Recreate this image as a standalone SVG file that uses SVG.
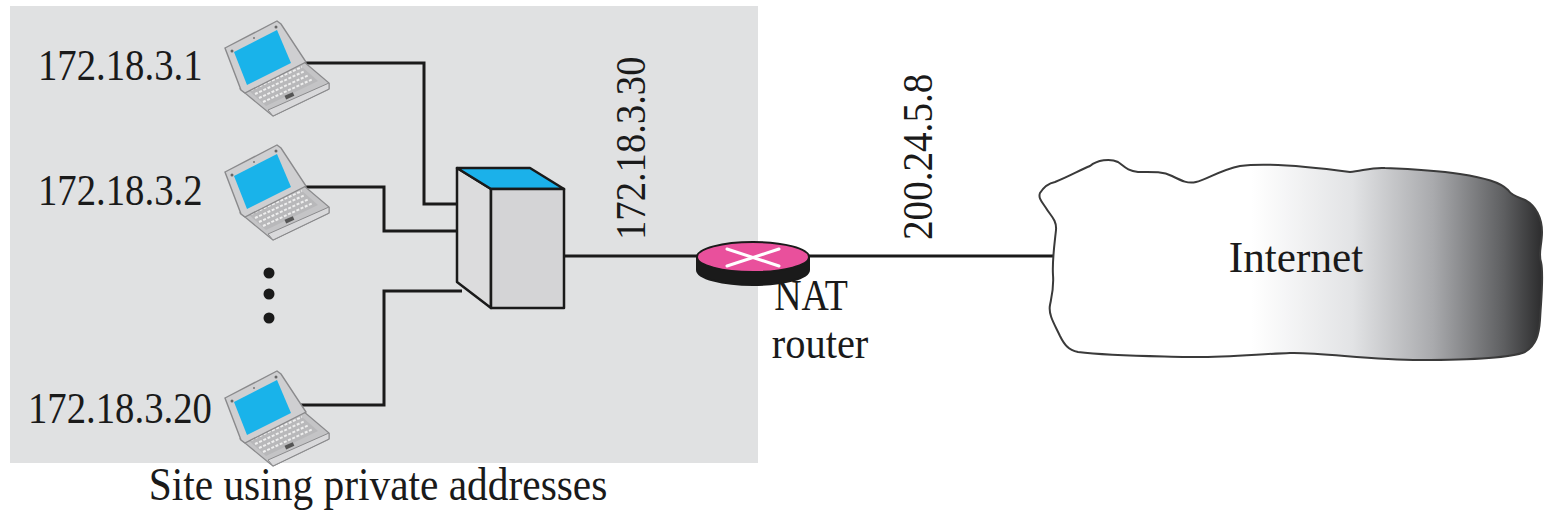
<svg xmlns="http://www.w3.org/2000/svg" xmlns:xlink="http://www.w3.org/1999/xlink" width="1544" height="515" viewBox="0 0 1544 515">
  <style>
    .lbl { font-family: "Liberation Serif", "Times New Roman", serif; fill: #1a1a1a; }
    .wire { fill: none; stroke: #1a1a1a; stroke-width: 3; stroke-linejoin: miter; }
    .edge { stroke: #1a1a1a; stroke-width: 2.5; stroke-linejoin: round; }
  </style>
  <defs>
    <linearGradient id="cloudShade" x1="1040" y1="0" x2="1544" y2="0" gradientUnits="userSpaceOnUse">
      <stop offset="0" stop-color="#ffffff"/>
      <stop offset="0.42" stop-color="#ffffff"/>
      <stop offset="0.62" stop-color="#e2e3e5"/>
      <stop offset="0.78" stop-color="#a9aaad"/>
      <stop offset="0.92" stop-color="#5e5f61"/>
      <stop offset="1" stop-color="#2a2a2b"/>
    </linearGradient>
    <!-- laptop icon, drawn around its own origin at the lid's upper corner -->
    <g id="laptop">
      <!-- base -->
      <path d="M240,89 L303,61 L329,83 L329,89 L273,116 L268,112 Z" fill="#c4c4c6" stroke="#8a8a8c" stroke-width="1.2"/>
      <path d="M268,110 L329,83 L329,89 L273,116 Z" fill="#d9d9db" stroke="#8a8a8c" stroke-width="1"/>
      <path d="M248,90 L301,66 L318,81 L266,106 Z" fill="#b8b8ba"/>
      <g stroke="#eeeeee" stroke-width="2" stroke-dasharray="3 1.6">
        <line x1="251" y1="90" x2="302" y2="67"/>
        <line x1="255" y1="94" x2="305" y2="71"/>
        <line x1="259" y1="98" x2="309" y2="75"/>
        <line x1="263" y1="102" x2="313" y2="79"/>
      </g>
      <rect x="285" y="94" width="9" height="4" fill="#555" transform="rotate(-24 289 96)"/>
      <!-- lid -->
      <path d="M225,48 L277,21 L281,24 L306,62 L245,93 L241,90 Z" fill="#cfcfd1" stroke="#8a8a8c" stroke-width="1.4"/>
      <path d="M234,52 L277,30 L291,63 L247,85 Z" fill="#19b3ea"/>
      <circle cx="232" cy="51" r="1.5" fill="#666"/>
      <circle cx="276" cy="27" r="1.5" fill="#666"/>
      <circle cx="254" cy="38" r="1" fill="#777"/>
    </g>
  </defs>

  <!-- private site area -->
  <rect x="10" y="6" width="748" height="457" fill="#e0e1e2"/>

  <!-- connectors -->
  <g id="connectors">
    <polyline class="wire" points="303,63 424,63 424,204 458,204"/>
    <polyline class="wire" points="303,187 384,187 384,231 458,231"/>
    <polyline class="wire" points="292,405 384,405 384,291 462,291"/>
    <line class="wire" x1="564" y1="256" x2="700" y2="256"/>
    <line class="wire" x1="806" y1="256" x2="1054" y2="256"/>
  </g>

  <!-- hosts -->
  <g id="host1">
    <use xlink:href="#laptop"/>
    <text class="lbl" font-size="44" transform="translate(38,80) scale(0.88,1)">172.18.3.1</text>
  </g>
  <g id="host2">
    <use xlink:href="#laptop" transform="translate(0,124)"/>
    <text class="lbl" font-size="44" transform="translate(38,205) scale(0.88,1)">172.18.3.2</text>
  </g>
  <g id="ellipsis">
    <circle cx="269" cy="273" r="5.5" fill="#1a1a1a"/>
    <circle cx="269" cy="294" r="5.5" fill="#1a1a1a"/>
    <circle cx="269" cy="318" r="5.5" fill="#1a1a1a"/>
  </g>
  <g id="host20">
    <use xlink:href="#laptop" transform="translate(0,350)"/>
    <text class="lbl" font-size="44" transform="translate(28,423) scale(0.88,1)">172.18.3.20</text>
  </g>

  <!-- switch -->
  <g id="switch">
    <path class="edge" d="M457,168 L491,189 L491,308 L457,282 Z" fill="#dcdcdd"/>
    <path class="edge" d="M457,168 L530,168 L564,189 L491,189 Z" fill="#1bb1ea"/>
    <rect class="edge" x="491" y="189" width="73" height="119" fill="#d4d4d6"/>
  </g>
  <text class="lbl" font-size="42" transform="translate(645,240) rotate(-90) scale(0.92,1)">172.18.3.30</text>

  <!-- NAT router -->
  <g id="nat-router">
    <path d="M697,257 L697,270 A56,15 0 0 0 809,270 L809,257 Z" fill="#1a1a1a" stroke="#1a1a1a" stroke-width="2"/>
    <ellipse cx="753" cy="257" rx="56" ry="15" fill="#e9509c" stroke="#1a1a1a" stroke-width="2"/>
    <g stroke="#ffffff" stroke-width="3" stroke-linecap="round">
      <line x1="727" y1="249" x2="779" y2="266"/>
      <line x1="727" y1="266" x2="779" y2="249"/>
    </g>
    <text class="lbl" font-size="44" text-anchor="middle" transform="translate(811,310) scale(0.86,1)">NAT</text>
    <text class="lbl" font-size="44" text-anchor="middle" transform="translate(820,358) scale(0.92,1)">router</text>
  </g>
  <text class="lbl" font-size="43" transform="translate(932,240) rotate(-90) scale(0.91,1)">200.24.5.8</text>

  <!-- Internet cloud -->
  <g id="internet">
    <path d="M1040,193 C1045,185 1050,183 1055,182 C1070,176 1080,170 1090,166 C1097,160 1110,158 1118,162 C1124,166 1127,171 1138,172 C1150,172 1162,171 1172,176 C1182,181 1188,184 1196,182 C1206,180 1220,170 1240,166 C1270,162 1320,168 1350,172 C1362,171 1372,167 1385,168 C1410,169 1440,171 1460,174 C1485,178 1500,182 1508,190 C1512,196 1518,197 1525,200 C1536,206 1542,218 1542,232 C1542,245 1538,253 1541,262 C1544,275 1541,300 1540,320 C1539,335 1536,345 1525,352 C1510,358 1470,360 1420,360 C1370,360 1320,352 1290,353 C1260,354 1220,358 1187,357 C1150,356 1110,356 1078,352 C1068,350 1064,344 1060,336 C1055,325 1048,315 1050,305 C1052,295 1054,288 1053,275 C1052,260 1055,240 1056,230 C1057,220 1050,215 1046,208 C1042,202 1038,198 1040,193 Z" fill="url(#cloudShade)" stroke="#3a3a3a" stroke-width="2"/>
    <text class="lbl" font-size="45" text-anchor="middle" transform="translate(1296,272) scale(0.96,1)">Internet</text>
  </g>

  <text class="lbl" font-size="46" text-anchor="middle" transform="translate(378,500) scale(0.9,1)">Site using private addresses</text>
</svg>
